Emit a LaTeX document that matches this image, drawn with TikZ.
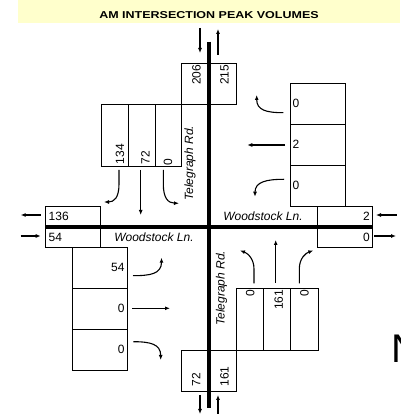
\documentclass[tikz,border=0pt]{standalone}
\usepackage{fontspec}
\setmainfont{Liberation Sans}
\usepackage{tikz}
\usetikzlibrary{arrows.meta}
\definecolor{titlebg}{RGB}{255,255,204}

\begin{document}
\begin{tikzpicture}[x=1pt,y=1pt,
  vol/.style={inner sep=0pt,font=\fontsize{12}{14}\selectfont},
  rdname/.style={inner sep=0pt,font=\fontsize{12}{14}\selectfont\itshape},
  lane/.style={draw,line width=0.8pt},
  mv/.style={line width=1.1pt,-{Latex[length=5pt,width=4pt]}},
  road/.style={line width=3.5pt}]
  \useasboundingbox (0,0) rectangle (400,414);
  % title band
  \fill[titlebg] (18,391) rectangle (400,414);
  \node[inner sep=0pt,anchor=base,font=\fontsize{10}{12}\selectfont\bfseries] (title) at (209,395.7)
    {\scalebox{1.25}[1]{AM INTERSECTION PEAK VOLUMES}};
  % north leg
  \draw[lane] (181.7,350.7) rectangle (236.7,309.7);
  \draw[lane] (101,309.7) rectangle (128,247.5);
  \draw[lane] (128,309.7) rectangle (155,247.5);
  \draw[lane] (155,309.7) rectangle (181.7,247.5);
  % west leg
  \draw[lane] (45.3,207.3) rectangle (100.7,187);
  \draw[lane] (45.3,187) rectangle (100.7,166.7);
  \draw[lane] (72.7,166.7) rectangle (127.3,125.7);
  \draw[lane] (72.7,125.7) rectangle (127.3,84.7);
  \draw[lane] (72.7,84.7) rectangle (127.3,44);
  % east leg
  \draw[lane] (317.3,207.3) rectangle (372.7,187);
  \draw[lane] (317.3,187) rectangle (372.7,166.7);
  \draw[lane] (290.7,330.7) rectangle (345,289.7);
  \draw[lane] (290.7,289.7) rectangle (345,248.3);
  \draw[lane] (290.7,248.3) rectangle (345,207.3);
  % south leg
  \draw[lane] (236.7,125.7) rectangle (263.3,64);
  \draw[lane] (263.3,125.7) rectangle (290.3,64);
  \draw[lane] (290.3,125.7) rectangle (318.3,64);
  \draw[lane] (181.7,64) rectangle (236.7,23);
  % roads
  \draw[road] (209,372.3) -- (209,6);
  \draw[road] (45.3,187) -- (372.7,187);
  % road names
  \node[rdname,rotate=90,anchor=base] (telN) at (193,250.7) {Telegraph Rd.};
  \node[rdname,rotate=90,anchor=base] (telS) at (224.5,125.7) {Telegraph Rd.};
  \node[rdname,anchor=base] (woodW) at (154,172.3) {Woodstock Ln.};
  \node[rdname,anchor=base] (woodE) at (263,193.3) {Woodstock Ln.};
  % north volumes
  \node[vol,rotate=90,anchor=base east] (n206) at (200.5,349.5) {206};
  \node[vol,rotate=90,anchor=base east] (n215) at (228.5,349.5) {215};
  \node[vol,rotate=90,anchor=base west] (nL) at (124,249.5) {134};
  \node[vol,rotate=90,anchor=base west] (nT) at (149.5,249.5) {72};
  \node[vol,rotate=90,anchor=base west] (nR) at (172,248.5) {0};
  % west volumes
  \node[vol,anchor=base west] (w136) at (48.5,193.3) {136};
  \node[vol,anchor=base west] (w54) at (48.5,172.3) {54};
  \node[vol,anchor=base east] (wL) at (124.7,142.3) {54};
  \node[vol,anchor=base east] (wT) at (124.7,101.3) {0};
  \node[vol,anchor=base east] (wR) at (124.7,60) {0};
  % east volumes
  \node[vol,anchor=base east] (e2) at (370,193.3) {2};
  \node[vol,anchor=base east] (e0) at (370,172.3) {0};
  \node[vol,anchor=base west] (eR) at (292.5,306.7) {0};
  \node[vol,anchor=base west] (eT) at (292.5,265.7) {2};
  \node[vol,anchor=base west] (eL) at (292.5,224.3) {0};
  % south volumes
  \node[vol,rotate=90,anchor=base east] (sL) at (254.3,124.5) {0};
  \node[vol,rotate=90,anchor=base east] (sT) at (282.8,124.5) {161};
  \node[vol,rotate=90,anchor=base east] (sR) at (308.5,124.5) {0};
  \node[vol,rotate=90,anchor=base west] (s72) at (200.3,27.3) {72};
  \node[vol,rotate=90,anchor=base west] (s161) at (228.5,27.3) {161};
  % approach and departure arrows
  \draw[mv] (200,386) -- (200,361);
  \draw[mv] (218,359) -- (218,385);
  \draw[mv] (200,19) -- (200,0);
  \draw[mv] (218,0) -- (218,19);
  \draw[mv] (40.7,199) -- (20.7,199);
  \draw[mv] (20.7,178) -- (40.7,178);
  \draw[mv] (396.7,199) -- (376,199);
  \draw[mv] (374,178) -- (396,178);
  % southbound turns
  \draw[mv] (119,244) -- (119,230) .. controls (119,216) and (114,212) .. (104,212);
  \draw[mv] (140.7,244) -- (140.7,199);
  \draw[mv] (163.3,244) -- (163.3,230) .. controls (163.3,216) and (168,211) .. (179,210.7);
  % northbound turns
  \draw[mv] (254,130.7) -- (254,145) .. controls (254,156) and (247,161) .. (240,163.5);
  \draw[mv] (275.7,131) -- (275.7,174);
  \draw[mv] (299.3,130.7) -- (299.3,145) .. controls (299.3,156) and (306,161) .. (313.3,163.5);
  % eastbound turns
  \draw[mv] (133,138.3) .. controls (150,138.3) and (161.5,140) .. (161.5,156.3);
  \draw[mv] (132.3,105.7) -- (170,105.7);
  \draw[mv] (133.3,72.3) .. controls (150,72.3) and (160.7,70) .. (160.7,54);
  % westbound turns
  \draw[mv] (283.3,301.3) .. controls (266,301.3) and (256.7,304) .. (256.7,319);
  \draw[mv] (285,269) -- (247.3,269);
  \draw[mv] (284,234.7) .. controls (266,234.7) and (255,232) .. (255,217.3);
  % north mark, cut at the edge
  \node[inner sep=0pt,anchor=base west,font=\fontsize{40}{40}\selectfont] (north) at (391.5,51.7) {N};
\end{tikzpicture}
\end{document}
